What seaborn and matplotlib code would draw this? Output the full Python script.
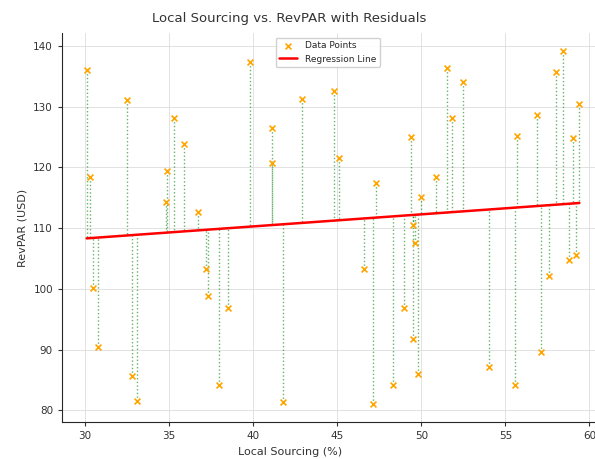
import numpy as np
import pandas as pd
import matplotlib
matplotlib.use("Agg")
import matplotlib.pyplot as plt
import seaborn as sns

# Values
local_sourcing = [
    30.1, 30.3, 30.5, 30.8, 32.5, 32.8, 33.1, 34.8, 34.9, 35.3,
    35.9, 36.7, 37.2, 37.3, 38.0, 38.5, 39.8, 41.1, 41.1, 41.8,
    42.9, 44.8, 45.1, 46.6, 47.1, 47.3, 48.3, 49.0, 49.4, 49.5,
    49.6, 49.5, 49.8, 50.0, 50.9, 51.5, 51.8, 52.5, 54.0, 55.7,
    55.6, 56.9, 57.1, 57.6, 58.0, 58.4, 58.8, 59.0, 59.2, 59.4,
]
revpar = [
    136.0, 118.4, 100.2, 90.5, 131.1, 85.6, 81.5, 114.3, 119.4, 128.1,
    123.9, 112.7, 103.2, 98.9, 84.2, 96.9, 137.4, 126.4, 120.7, 81.4,
    131.3, 132.5, 121.6, 103.2, 81.0, 117.5, 84.2, 96.9, 125.0, 110.5,
    107.5, 91.8, 86.0, 115.1, 118.4, 136.3, 128.1, 134.1, 87.1, 125.1,
    84.2, 128.6, 89.6, 102.2, 135.7, 139.2, 104.7, 124.9, 105.5, 130.5,
]

df = pd.DataFrame({"Local Sourcing (%)": local_sourcing, "RevPAR (USD)": revpar})
x = df["Local Sourcing (%)"].to_numpy()
y = df["RevPAR (USD)"].to_numpy()

# simple linear fit
slope, intercept = np.polyfit(x, y, 1)
y_pred = slope * x + intercept

sns.set_style("ticks")
plt.rcParams["font.family"] = ["DejaVu Sans"]

fig = plt.figure(figsize=(5.95, 4.59), dpi=100)
ax = fig.add_axes([62 / 595, 37 / 459, 542 / 595, 389 / 459])

# residual lines
for xi, yi, pi in zip(x, y, y_pred):
    ax.plot([xi, xi], [yi, pi], color="green", linestyle=":", linewidth=1.0, alpha=0.6)

sns.scatterplot(data=df, x="Local Sourcing (%)", y="RevPAR (USD)", ax=ax,
                color="orange", marker="x", s=18, linewidth=1.2, label="Data Points", zorder=3)

order = np.argsort(x)
ax.plot(x[order], y_pred[order], color="red", linewidth=1.8, label="Regression Line", zorder=2)

ax.set_title("Local Sourcing vs. RevPAR with Residuals", fontsize=9.5, color="#333333", pad=8, x=0.42)
ax.set_xlabel("Local Sourcing (%)", fontsize=8, color="#333333", x=0.42)
ax.set_ylabel("RevPAR (USD)", fontsize=8, color="#333333")
ax.tick_params(labelsize=7.5, length=3, colors="#333333")
ax.grid(True, color="#dddddd", linewidth=0.6)
ax.legend(loc="upper center", bbox_to_anchor=(0.49, 1.0), fontsize=6.5, frameon=True, framealpha=0.9)
sns.despine(ax=ax)

fig.savefig("out.png", dpi=100)
